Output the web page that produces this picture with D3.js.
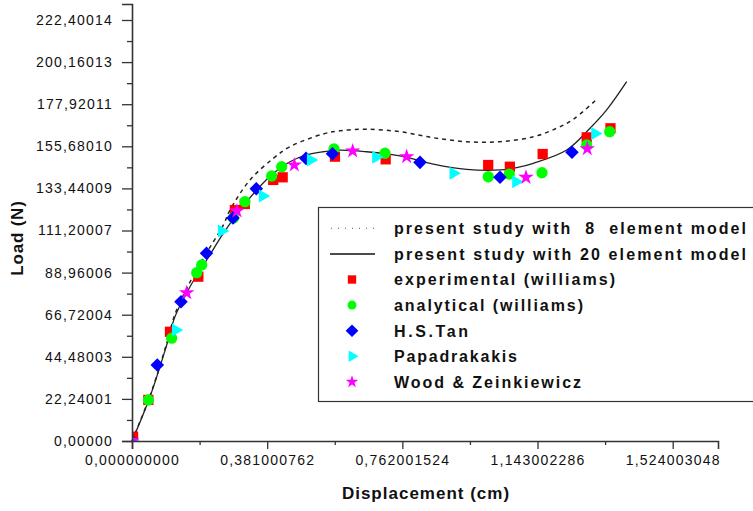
<!DOCTYPE html>
<html>
<head>
<meta charset="utf-8">
<script src="https://cdn.jsdelivr.net/npm/d3@7"></script>
<style>
  html, body { margin: 0; padding: 0; background: #fff; }
  svg { display: block; }
  text { font-family: "Liberation Sans", Arial, sans-serif; fill: #111; }
</style>
</head>
<body>
<svg id="chart" width="753" height="511"></svg>
<script>
// Load–displacement response: two FE models against published results
const xTickValues = [0, 0.381000762, 0.762001524, 1.143002286, 1.524003048];
const xTickLabels = ["0,000000000", "0,381000762", "0,762001524", "1,143002286", "1,524003048"];
const yTickValues = [0, 22.24001, 44.48003, 66.72004, 88.96006, 111.20007, 133.44009, 155.68010, 177.92011, 200.16013, 222.40014];
const yTickLabels = ["0,00000", "22,24001", "44,48003", "66,72004", "88,96006", "111,20007", "133,44009", "155,68010", "177,92011", "200,16013", "222,40014"];

// present study, 8 element model (displacement cm, load N)
const model8 = [
  [0, 0], [0.0507, 23.8], [0.0978, 51.5], [0.1212, 67.0], [0.1635, 84.0], [0.2105, 99.5],
  [0.2573, 114.0], [0.2762, 122.0], [0.3326, 137.9], [0.3983, 149.3], [0.4453, 155.5],
  [0.5392, 162.2], [0.5862, 163.9], [0.6615, 164.7], [0.7554, 163.4], [0.8492, 160.2],
  [0.9433, 158.1], [1.0372, 158.1], [1.1310, 160.7], [1.1970, 165.2], [1.2438, 169.9],
  [1.3098, 180.5]
];
// present study, 20 element model
const model20 = [
  [0, 0], [0.0507, 23.4], [0.0978, 50.7], [0.1212, 65.7], [0.1635, 81.5], [0.2105, 95.6],
  [0.2573, 109.7], [0.3044, 122.0], [0.3515, 132.6], [0.3983, 141.4], [0.4453, 147.5],
  [0.4924, 151.1], [0.5392, 152.8], [0.5862, 153.7], [0.6615, 152.8], [0.7554, 150.6],
  [0.8492, 146.3], [0.9433, 143.5], [1.0372, 143.2], [1.0843, 144.4], [1.1310, 146.7],
  [1.2252, 153.7], [1.2909, 165.2], [1.3379, 174.9], [1.3943, 189.8]
];
const experimental = [
  [0.003, 2.3], [0.046, 21.7], [0.107, 57.7], [0.187, 86.8], [0.290, 122.0], [0.318, 125.2],
  [0.398, 137.9], [0.4247, 139.3], [0.572, 150.2], [0.715, 148.8], [1.004, 145.8],
  [1.065, 144.9], [1.1575, 151.6], [1.2816, 160.4], [1.3486, 165.2]
];
const analytical = [
  [0.046, 21.7], [0.1119, 54.3], [0.1824, 88.9], [0.1964, 93.0], [0.286, 117.8], [0.3185, 126.4],
  [0.3937, 140.0], [0.4219, 144.9], [0.5693, 154.3], [0.7131, 152.0], [1.0042, 139.6],
  [1.0634, 141.0], [1.1556, 141.7], [1.2816, 156.4], [1.3464, 163.4]
];
const hsTan = [
  [0, 0], [0.0713, 40.1], [0.1381, 73.6], [0.2100, 99.2], [0.2847, 117.8], [0.3503, 133.3],
  [0.4904, 149.3], [0.5651, 151.7], [0.8117, 147.2], [1.0372, 139.3], [1.2401, 152.5]
];
const papadrakakis = [
  [0, 0], [0.1232, 58.6], [0.2528, 110.9], [0.3684, 129.4], [0.5037, 148.4], [0.6877, 149.9],
  [0.9056, 141.4], [1.0823, 137.0], [1.3050, 162.4]
];
const woodZeinkiewicz = [
  [0, 0], [0.1542, 78.3], [0.2959, 121.5], [0.4574, 145.8], [0.6220, 153.2], [0.7742, 150.2],
  [1.1105, 139.3], [1.2833, 154.4]
];

const legendLabels = [
  "present study with  8  element model",
  "present study with 20 element model",
  "experimental (williams)",
  "analytical (williams)",
  "H.S.Tan",
  "Papadrakakis",
  "Wood & Zeinkiewicz"
];

const svg = d3.select("#chart");

// plot frame
const frame = { left: 132, right: 718, bottom: 441, top: 4 };
const xEnd = 1.524003048 * (frame.right - frame.left) / (672.7 - frame.left);
const yEnd = 222.40014 * (frame.bottom - frame.top) / (frame.bottom - 20);
const x = d3.scaleLinear().domain([0, xEnd]).range([frame.left, frame.right]);
const y = d3.scaleLinear().domain([0, yEnd]).range([frame.bottom, frame.top]);

svg.append("clipPath").attr("id", "plotArea")
  .append("rect").attr("x", frame.left).attr("y", frame.top)
  .attr("width", frame.right - frame.left).attr("height", frame.bottom - frame.top);

// curves
const line = d3.line().x(d => x(d[0])).y(d => y(d[1])).curve(d3.curveCatmullRom.alpha(0.5));
svg.append("path").datum(model8).attr("d", line)
  .attr("fill", "none").attr("stroke", "#222").attr("stroke-width", 1.5).attr("stroke-dasharray", "4,4");
svg.append("path").datum(model20).attr("d", line)
  .attr("fill", "none").attr("stroke", "#222").attr("stroke-width", 1.3);

// markers
const series = [
  { data: experimental, type: d3.symbolSquare, size: 105, rot: 0, color: "#ff0000", lsize: 70 },
  { data: analytical, type: d3.symbolCircle, size: 100, rot: 0, color: "#00ff00", lsize: 64 },
  { data: hsTan, type: d3.symbolSquare, size: 92, rot: 45, color: "#0000ff", lsize: 80 },
  { data: papadrakakis, type: d3.symbolTriangle, size: 74, rot: 90, color: "#00ffff", lsize: 56 },
  { data: woodZeinkiewicz, type: d3.symbolStar, size: 74, rot: 0, color: "#ff00ff", lsize: 50 }
];
const marks = svg.append("g").attr("clip-path", "url(#plotArea)");
series.forEach(s => {
  marks.append("g").selectAll("path").data(s.data).join("path")
    .attr("d", d3.symbol().type(s.type).size(s.size))
    .attr("transform", d => `translate(${x(d[0])},${y(d[1])}) rotate(${s.rot})`)
    .attr("fill", s.color);
});

// axes
const axisColor = "#333";
const xMinor = d3.range(xTickValues.length - 1).map(i => (xTickValues[i] + xTickValues[i + 1]) / 2)
  .concat([xTickValues[xTickValues.length - 1] + (xTickValues[1] - xTickValues[0]) / 2])
  .filter(v => v < xEnd);
const yMinor = d3.range(yTickValues.length - 1).map(i => (yTickValues[i] + yTickValues[i + 1]) / 2);

svg.append("g").attr("transform", `translate(0,${frame.bottom})`)
  .call(d3.axisBottom(x).tickValues(xTickValues).tickSize(8).tickPadding(6)
    .tickFormat((d, i) => xTickLabels[i]));
svg.append("g").attr("transform", `translate(0,${frame.bottom})`)
  .call(d3.axisBottom(x).tickValues(xMinor).tickSize(4).tickFormat(""))
  .select(".domain").remove();

svg.append("g").attr("transform", `translate(${frame.left},0)`)
  .call(d3.axisLeft(y).tickValues(yTickValues).tickSize(10).tickPadding(9)
    .tickFormat((d, i) => yTickLabels[i]));
svg.append("g").attr("transform", `translate(${frame.left},0)`)
  .call(d3.axisLeft(y).tickValues(yMinor).tickSize(5).tickFormat(""))
  .select(".domain").remove();

svg.selectAll(".domain").attr("stroke", axisColor).attr("stroke-width", 1.6);
svg.selectAll(".tick line").attr("stroke", axisColor).attr("stroke-width", 1.3);
svg.selectAll(".tick text")
  .attr("font-family", "'Liberation Sans', Arial, sans-serif")
  .attr("font-size", 14).style("letter-spacing", "1.2px").attr("fill", "#111");

// axis titles
svg.append("text").attr("x", 426).attr("y", 499).attr("text-anchor", "middle")
  .attr("font-size", 17).attr("font-weight", "bold").style("letter-spacing", "1px")
  .text("Displacement (cm)");
svg.append("text").attr("transform", "translate(23,238) rotate(-90)").attr("text-anchor", "middle")
  .attr("font-size", 17).attr("font-weight", "bold").style("letter-spacing", "0.8px")
  .text("Load (N)");

// legend
const lg = svg.append("g");
lg.append("rect").attr("x", 318.5).attr("y", 207.5).attr("width", 460).attr("height", 194)
  .attr("fill", "#fff").attr("stroke", "#333").attr("stroke-width", 1.2);
const rowY = d3.range(legendLabels.length).map(i => 228.3 + i * 25.6);
const textWidths = [352, 352, 221, 189, 74, 123, 187];
legendLabels.forEach((t, i) => {
  lg.append("text").attr("x", 394).attr("y", rowY[i] + 5.8)
    .attr("font-size", 16).attr("font-weight", "bold")
    .attr("textLength", textWidths[i]).attr("lengthAdjust", "spacing")
    .style("white-space", "pre")
    .text(t);
});
lg.append("line").attr("x1", 331).attr("x2", 375).attr("y1", rowY[0]).attr("y2", rowY[0])
  .attr("stroke", "#555").attr("stroke-width", 1).attr("stroke-dasharray", "1,6");
lg.append("line").attr("x1", 330).attr("x2", 375).attr("y1", rowY[1]).attr("y2", rowY[1])
  .attr("stroke", "#111").attr("stroke-width", 1.5);
series.forEach((s, i) => {
  lg.append("path")
    .attr("d", d3.symbol().type(s.type).size(s.lsize))
    .attr("transform", `translate(352,${rowY[i + 2]}) rotate(${s.rot})`)
    .attr("fill", s.color);
});
</script>
</body>
</html>
